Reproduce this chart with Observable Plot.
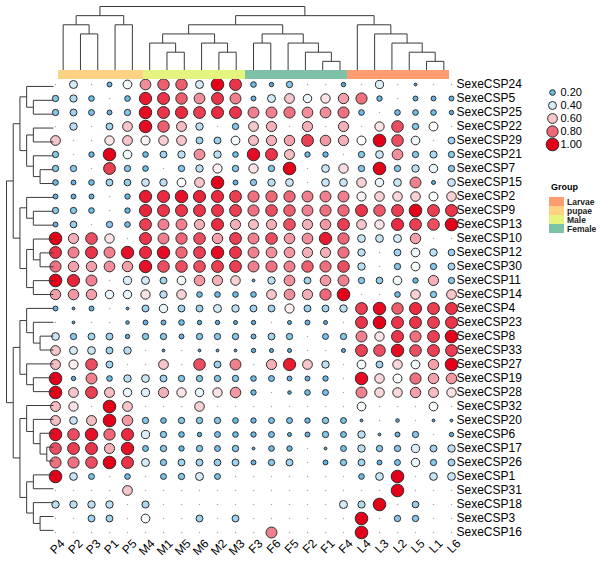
<!DOCTYPE html>
<html><head><meta charset="utf-8">
<script src="https://cdn.jsdelivr.net/npm/d3@7"></script>
<script src="https://cdn.jsdelivr.net/npm/@observablehq/plot@0.6"></script>
<style>
body{margin:0;background:#fff;}
#wrap{position:relative;width:600px;height:563px;overflow:hidden;}
#wrap svg{position:absolute;left:0;top:0;}
</style></head><body><div id="wrap"></div>
<script>
// ---------- data ----------
const columns = ["P4","P2","P3","P1","P5","M4","M1","M5","M6","M2","M3","F3","F6","F5","F2","F1","F4","L4","L3","L2","L5","L1","L6"];
const columnGroup = ["pupae","pupae","pupae","pupae","pupae","Male","Male","Male","Male","Male","Male","Female","Female","Female","Female","Female","Female","Larvae","Larvae","Larvae","Larvae","Larvae","Larvae"];
const groupNames = ["Larvae","pupae","Male","Female"];
const groupColors = ["#FD9C70","#FDD283","#E4F47F","#7DC2A6"];
const rows = ["SexeCSP24","SexeCSP5","SexeCSP25","SexeCSP22","SexeCSP29","SexeCSP21","SexeCSP7","SexeCSP15","SexeCSP2","SexeCSP9","SexeCSP13","SexeCSP10","SexeCSP12","SexeCSP30","SexeCSP11","SexeCSP14","SexeCSP4","SexeCSP23","SexeCSP8","SexeCSP33","SexeCSP27","SexeCSP19","SexeCSP28","SexeCSP32","SexeCSP20","SexeCSP6","SexeCSP17","SexeCSP26","SexeCSP1","SexeCSP31","SexeCSP18","SexeCSP3","SexeCSP16"];
const legendValues = [0.2, 0.4, 0.6, 0.8, 1.0];

// values per row, in column order
const csp24 = [0,0.4,0,0.15,0.48,0.72,0.82,0.82,0.4,1.0,0.9,0.2,0.12,0.25,0,0,0.12,0,0.42,0,0.05,0,0];
const csp5  = [0.25,0.33,0.2,0,0.2,0.95,0.9,0.82,0.72,0.9,0.75,0.15,0.4,0.6,0.45,0.55,0.68,0.78,0.18,0,0.15,0.15,0.15];
const csp25 = [0.25,0.3,0.22,0.15,0.25,0.98,0.9,0.92,0.88,0.92,0.9,0.75,0.75,0.78,0.72,0.72,0.78,0.2,0,0.2,0.2,0.2,0.12];
const csp22 = [0,0.35,0,0.3,0.6,0.98,0.82,0.62,0.35,0,0.25,0.6,0.65,0,0.65,0,0.65,0,0.55,0.85,0.25,0.5,0];
const csp29 = [0.6,0,0,0.55,0.6,0.52,0.58,0.6,0.3,0.3,0.48,0.62,0.65,0.68,0.88,0.7,0.65,0.5,1.0,0.85,0.47,0,0.3];
const csp21 = [0.25,0,0.18,1.0,0.47,0.2,0.3,0.35,0.72,0.35,0.2,0.98,0.9,0.62,0.18,0.18,0,0.25,0.38,0.72,0.25,0.32,0.25];
const csp7  = [0.25,0.25,0,0.88,0.25,0.2,0,0.25,0.35,0.53,0.25,0.55,0.25,1.0,0,0.38,0.56,0.25,1.0,0.25,0.35,0.45,0.25];
const csp15 = [0.2,0.15,0.2,0.3,0.28,0.38,0.35,0.48,0.6,1.0,0.15,0.25,0.35,0.38,0,0.38,0.38,0.58,0.45,0.38,0.75,0.1,0.38];
const csp2  = [0.15,0.15,0.15,0,0.18,0.95,0.92,0.97,0.93,0.92,0.88,0.78,0.8,0.8,0.75,0.75,0.75,0.52,0.58,0.57,0.58,0.5,0.58];
const csp9  = [0.25,0.25,0.2,0,0.18,0.93,0.9,0.9,0.9,0.9,0.88,0.78,0.85,0.82,0.75,0.78,0.8,0.9,0.83,0.88,1.0,0.88,0.9];
const csp13 = [0.15,0.28,0,0.25,0.2,0.88,0.75,0.75,0.65,0.92,0.65,0.62,0.65,0.85,0.65,0.7,0.88,0.6,0.55,0.92,0.88,0.85,1.0];
const csp10 = [1.0,0.65,0.85,0.55,0,0.9,0.75,0.8,0.85,0.68,0.88,0.75,0.85,0.7,0.72,0.95,0.8,0.38,0.38,0.4,0.68,0,0];
const csp12 = [0.9,0.75,0.9,0.75,0.97,0.92,0.98,0.8,0.88,0.98,0.9,0.75,0.72,0.7,0.65,0.65,0.78,0.35,0,0.3,0.47,0.35,0.28];
const csp30 = [0.78,0.68,0.68,0.72,0.68,0.97,0.85,0.85,0.85,0.88,0.88,0.75,0.78,0.75,0.82,0.78,0.85,0.35,0,0.25,0.48,0.25,0.3];
const csp11 = [1.0,0.93,0.75,0,0.42,0.4,0.3,0.47,0.7,0.65,0.58,0.05,0.35,0.72,0.3,0.7,0.75,0.25,0.28,0.47,0.18,0.65,0.25];
const csp14 = [0.68,0.7,0.68,0.45,0.45,0.55,0.35,0.58,0.2,0.2,0.2,0.2,0.6,0.72,0.65,0.8,1.0,0,0,0.2,0.58,0.25,0.6];
const csp4  = [0.15,0.05,0.15,0,0.05,0.3,0.45,0.3,0.3,0.4,0.35,0.3,0.3,0.53,0.3,0.3,0.35,0.88,0.98,0.82,0.92,0.88,0.9];
const csp23 = [0,0.05,0,0,0.08,0.15,0.15,0.2,0.12,0.12,0.1,0.12,0,0.1,0.15,0.1,0,0.9,1.0,0.9,0.9,0.88,0.9];
const csp8  = [0.38,0.25,0.3,0.3,0.12,0.25,0.25,0.15,0.25,0.25,0.25,0.15,0.3,0.25,0,0.22,0.25,0.75,0.55,0.9,0.78,0.88,1.0];
const csp33 = [0.6,0.4,0.38,0.3,0.35,0,0.05,0,0.05,0.05,0.05,0.12,0.1,0.1,0,0,0.1,0.88,0.85,0.98,0.85,0.88,0.88];
const csp27 = [0.62,0.53,0.85,0.3,0,0,0.6,0,0.85,0.3,0.75,0,0.65,0.95,0.6,0.35,0,0.48,0.3,0.57,0.48,0.68,1.0];
const csp19 = [1.0,0.12,0.75,0.2,0.35,0.38,0.3,0.25,0.25,0.25,0.25,0.2,0.22,0.15,0.15,0.18,0,0.98,0.57,0.5,0.78,0.68,0.7];
const csp28 = [1.0,0.6,0.88,0.62,0.45,0.42,0.65,0.55,0.45,0.55,0.7,0.18,0,0.08,0.2,0.22,0,0.75,0.57,0.57,0.68,0.62,0.55];
const csp32 = [0.62,0.55,0,1.0,0.6,0,0,0,0.58,0,0,0,0,0,0,0,0,0.48,0,0,0,0.48,0];
const csp20 = [0.62,0.38,0.62,1.0,0.7,0.25,0.2,0.25,0.25,0.25,0.2,0.18,0.22,0.22,0.18,0.25,0.22,0.05,0,0.08,0,0.05,0.05];
const csp6  = [0.98,0.85,0.97,0.8,0.92,0.42,0.25,0.2,0.12,0.22,0.2,0.18,0.22,0.1,0.15,0.25,0.22,0.35,0.05,0.15,0.25,0,0.12];
const csp17 = [0.85,0.88,0.9,0.65,0.97,0.22,0.25,0.18,0.25,0.22,0.25,0.05,0.2,0.18,0,0.05,0.22,0.35,0.25,0.25,0.42,0.3,0.35];
const csp26 = [0.78,0.78,0.85,1.0,0.9,0.4,0.25,0.3,0.3,0.28,0.3,0.15,0.25,0.3,0,0.15,0.25,0.3,0.15,0.22,0.45,0.25,0.3];
const csp1  = [1.0,0.38,0.22,0,0.2,0,0.22,0.25,0.4,0.22,0,0,0,0,0,0,0,0.2,0.38,1.0,0,0.38,0.38];
const csp31 = [0,0,0,0,0.6,0,0,0,0,0,0,0,0,0,0,0,0,0,0,1.0,0,0,0];
const csp18 = [0.35,0.35,0.35,0.35,0,0.32,0,0,0,0,0,0,0,0,0,0,0.4,0.33,1.0,0,0.28,0,0];
const csp3  = [0,0,0.3,0.3,0,0.48,0,0,0.3,0,0.3,0,0,0,0,0,0,1.0,0,0.25,0.25,0,0];
const csp16 = [0,0,0,0,0,0,0,0,0,0,0,0,0.75,0,0,0,0,1.0,0,0,0,0,0];
const matrix = [csp24,csp5,csp25,csp22,csp29,csp21,csp7,csp15,csp2,csp9,csp13,csp10,csp12,csp30,csp11,csp14,csp4,csp23,csp8,csp33,csp27,csp19,csp28,csp32,csp20,csp6,csp17,csp26,csp1,csp31,csp18,csp3,csp16];

// dendrogram topologies (nested pairs)
const columnTree = [[["P4",["P2","P3"]],["P1","P5"]],
  [[[["M4",["M1","M5"]],["M6",["M2","M3"]]],[["F3","F6"],["F5",["F2",["F1","F4"]]]]],
   ["L4",["L3",["L2",["L5",["L1","L6"]]]]]]];
const S = n => "SexeCSP" + n;
const rowTree = [
  [[[S(24),[S(5),S(25)]],[[S(22),S(29)],[S(21),[S(7),S(15)]]]],
   [[S(2),[S(9),S(13)]],[[S(10),[S(12),S(30)]],[S(11),S(14)]]]],
  [[[S(4),[S(23),[S(8),S(33)]]],[S(27),[S(19),S(28)]]],
   [[S(32),[S(20),[S(6),[S(17),S(26)]]]],
    [[S(1),S(31)],[S(18),[S(3),S(16)]]]]]
];

// ---------- helpers ----------
function layoutTree(tree, order) {
  const pos = new Map(order.map((k, i) => [k, i]));
  let maxD = 0;
  function walk(n, d) {
    if (typeof n === "string") return {p: pos.get(n), d, leaf: true};
    const a = walk(n[0], d + 1), b = walk(n[1], d + 1);
    maxD = Math.max(maxD, d);
    return {p: (a.p + b.p) / 2, d, kids: [a, b]};
  }
  const root = walk(tree, 0);
  const leafD = maxD + 1;
  const segs = [];
  (function emit(n) {
    if (!n.kids) return;
    const [a, b] = n.kids;
    segs.push({p1: a.p, d1: n.d, p2: b.p, d2: n.d});
    for (const c of n.kids) {
      segs.push({p1: c.p, d1: n.d, p2: c.p, d2: c.kids ? c.d : leafD});
      emit(c);
    }
  })(root);
  return {segs, leafD};
}

const W = 600, H = 563;
const gridX = [54, 452], gridY = [79, 536.8];
const font = '"Liberation Sans", Arial, sans-serif';
const baseStyle = {background: "transparent", fontFamily: font, fontSize: "12px", color: "#000", overflow: "visible"};
const rScale = {type: "sqrt", domain: [0, 1], range: [0, 6.3]};
const colorScale = {type: "linear", domain: [0, 0.2, 0.4, 0.5, 0.6, 0.8, 1],
  range: ["#3a9ad8", "#6cbbe8", "#d4ebf8", "#ffffff", "#f7c6cb", "#ee6878", "#e5001a"]};

const cells = [];
rows.forEach((r, i) => columns.forEach((c, j) => cells.push({row: r, col: c, v: matrix[i][j]})));

const wrap = document.getElementById("wrap");

// ---------- main bubble grid ----------
wrap.append(Plot.plot({
  width: W, height: H, style: baseStyle,
  marginLeft: gridX[0], marginRight: W - gridX[1], marginTop: gridY[0], marginBottom: H - gridY[1],
  x: {domain: columns, range: gridX, padding: 0, axis: null},
  y: {domain: rows, range: gridY, padding: 0, axis: "right", tickSize: 0, tickPadding: 4, label: null},
  r: rScale, color: colorScale,
  marks: [
    Plot.dot(cells.filter(d => d.v === 0), {x: "col", y: "row", r: 0.75, fill: "#a8a8a8"}),
    Plot.dot(cells.filter(d => d.v > 0), {x: "col", y: "row", r: "v", fill: "v", stroke: "#2a2a2a", strokeWidth: 1}),
    Plot.text(columns, {x: d => d, frameAnchor: "bottom", rotate: -45, textAnchor: "end", dx: 10, dy: 7, fontSize: 12, fill: "#000"})
  ]
}));

// ---------- column dendrogram ----------
const ct = layoutTree(columnTree, columns);
wrap.append(Plot.plot({
  width: W, height: H, style: baseStyle,
  x: {domain: [-0.5, columns.length - 0.5], range: gridX, axis: null},
  y: {domain: [0, ct.leafD], range: [6, 70], axis: null},
  marks: [Plot.link(ct.segs, {x1: "p1", y1: "d1", x2: "p2", y2: "d2", stroke: "#3a3a3a", strokeWidth: 1})]
}));

// ---------- row dendrogram ----------
const rt = layoutTree(rowTree, rows);
wrap.append(Plot.plot({
  width: W, height: H, style: baseStyle,
  x: {domain: [0, rt.leafD], range: [6, 53], axis: null},
  y: {domain: [-0.5, rows.length - 0.5], range: gridY, axis: null},
  marks: [Plot.link(rt.segs, {x1: "d1", y1: "p1", x2: "d2", y2: "p2", stroke: "#3a3a3a", strokeWidth: 1})]
}));

// ---------- group colour bar ----------
wrap.append(Plot.plot({
  width: W, height: H, style: baseStyle,
  marginTop: 70, marginBottom: H - 79, marginLeft: gridX[0], marginRight: W - gridX[1],
  x: {domain: columns, range: gridX, padding: 0, axis: null},
  color: {domain: groupNames, range: groupColors},
  marks: [Plot.cell(columns, {x: d => d, fill: (d, i) => columnGroup[i], inset: 0})]
}));

// ---------- size / colour legend ----------
wrap.append(Plot.plot({
  width: W, height: H, style: baseStyle,
  x: {type: "point", domain: ["k"], range: [552, 552], axis: null},
  y: {type: "point", domain: legendValues, range: [84, 151], axis: null},
  r: rScale, color: colorScale,
  marks: [
    Plot.dot(legendValues, {x: () => "k", y: d => d, r: d => d, fill: d => d, stroke: "#2a2a2a", strokeWidth: 1}),
    Plot.text(legendValues, {x: () => "k", y: d => d, text: d => d.toFixed(2), dx: 8, textAnchor: "start", fontSize: 11, fill: "#000"})
  ]
}));

// ---------- group legend ----------
wrap.append(Plot.plot({
  width: W, height: H, style: baseStyle,
  x: {type: "band", domain: ["k"], range: [548.5, 563.5], padding: 0, axis: null},
  y: {type: "band", domain: groupNames, range: [196.5, 233.5], padding: 0, axis: null},
  color: {domain: groupNames, range: groupColors},
  marks: [
    Plot.cell(groupNames, {x: () => "k", y: d => d, fill: d => d, inset: 0}),
    Plot.text(groupNames, {x: () => "k", y: d => d, text: d => d, dx: 10, textAnchor: "start", fontSize: 8.5, fontWeight: "bold", fill: "#222"}),
    Plot.text(["Group"], {x: () => "k", y: () => groupNames[0], text: d => d, dx: -6, dy: -15, textAnchor: "start", fontSize: 9, fontWeight: "bold", fill: "#000"})
  ]
}));
</script></body></html>
